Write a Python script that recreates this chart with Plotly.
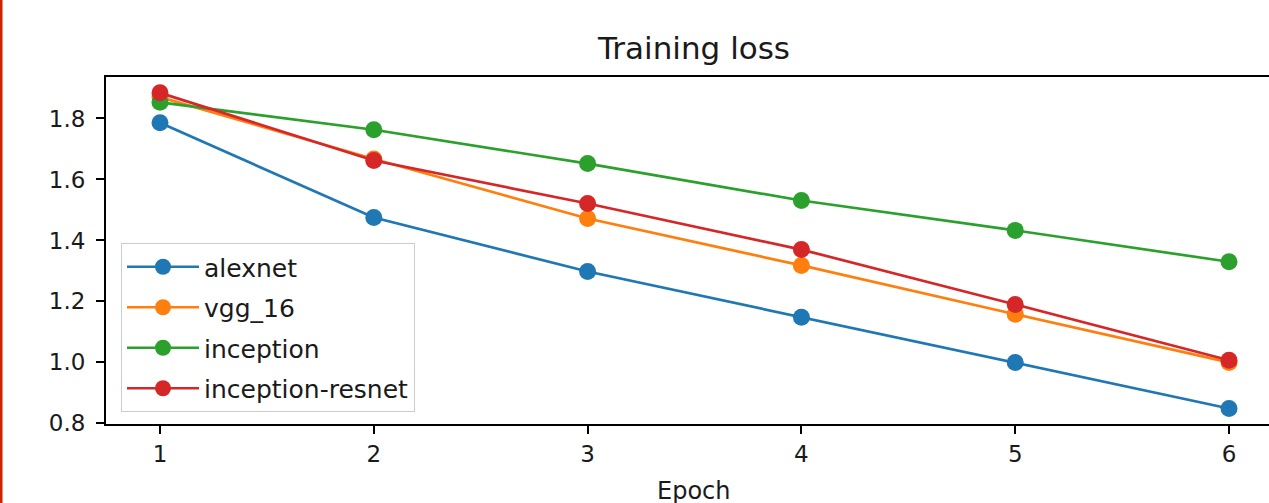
import plotly.graph_objects as go

epochs = [1, 2, 3, 4, 5, 6]
alexnet = [1.786, 1.475, 1.298, 1.148, 1.000, 0.849]
vgg_16 = [1.870, 1.667, 1.472, 1.318, 1.158, 1.000]
inception = [1.853, 1.763, 1.652, 1.531, 1.433, 1.330]
inception_resnet = [1.884, 1.662, 1.521, 1.370, 1.190, 1.007]

series_names = ["alexnet", "vgg_16", "inception", "inception-resnet"]
series_values = [alexnet, vgg_16, inception, inception_resnet]
colors = ["#1f77b4", "#ff7f0e", "#2ca02c", "#d62728"]

y_ticks = [0.8, 1.0, 1.2, 1.4, 1.6, 1.8]
y_tick_labels = ["0.8", "1.0", "1.2", "1.4", "1.6", "1.8"]
x_ticks = [1, 2, 3, 4, 5, 6]

W, H = 1269, 503
L, R, T, B = 106, 0, 77, 79
FONT = "DejaVu Sans"
TXT = "#1a1a1a"

fig = go.Figure()
for i, (name, vals, col) in enumerate(zip(series_names, series_values, colors)):
    fig.add_trace(go.Scatter(
        x=epochs, y=vals, name=name, mode="lines+markers",
        line=dict(color=col, width=2.7),
        marker=dict(color=col, size=17),
        legendgroup=f"g{i}",
        cliponaxis=False,
    ))

fig.update_layout(
    width=W, height=H,
    margin=dict(l=L, r=R, t=T, b=B, pad=0),
    plot_bgcolor="white", paper_bgcolor="white",
    font=dict(family=FONT, size=22, color=TXT),
    showlegend=True,
    legend=dict(
        x=(121 - L) / (W - L), y=(H - B - 412) / (H - T - B),
        xanchor="left", yanchor="bottom",
        bgcolor="rgba(255,255,255,0.8)", bordercolor="#cccccc", borderwidth=1,
        font=dict(family=FONT, size=25, color=TXT),
        tracegroupgap=5, itemwidth=72,
    ),
    title=dict(
        text="Training loss", x=(694 - L) / (W - L), xref="paper", xanchor="center",
        y=1 - 48 / H, yref="container", yanchor="middle",
        font=dict(family=FONT, size=31, color=TXT),
    ),
    xaxis=dict(
        range=[0.7474, 6.187], tickvals=x_ticks, ticktext=[str(v) for v in x_ticks],
        showgrid=False, zeroline=False,
        showline=True, linecolor="#000000", linewidth=2, mirror=True,
        ticks="outside", ticklen=8, tickwidth=2, tickcolor="#000000",
        tickfont=dict(family=FONT, size=23, color=TXT),
    ),
    yaxis=dict(
        range=[0.798, 1.936], tickvals=y_ticks, ticktext=y_tick_labels,
        showgrid=False, zeroline=False,
        showline=True, linecolor="#000000", linewidth=2, mirror=False,
        ticks="outside", ticklen=8, tickwidth=2, tickcolor="#000000",
        tickfont=dict(family=FONT, size=23, color=TXT),
        ticklabelstandoff=6,
    ),
)

fig.add_annotation(
    text="Epoch", xref="paper", yref="paper",
    x=(694 - L) / (W - L), y=-(491 - (H - B)) / (H - T - B),
    xanchor="center", yanchor="middle", showarrow=False,
    font=dict(family=FONT, size=24, color=TXT),
)

# red border line at the left edge of the picture
fig.add_shape(
    type="line", xref="paper", yref="paper",
    x0=-(L - 1) / (W - L), x1=-(L - 1) / (W - L),
    y0=-B / (H - T - B), y1=1 + T / (H - T - B),
    line=dict(color="#cc2200", width=3),
)

fig.write_html(
    "out.html",
    config={"displayModeBar": False},
    post_script="document.body.style.margin='0';document.body.style.overflow='hidden';",
)
